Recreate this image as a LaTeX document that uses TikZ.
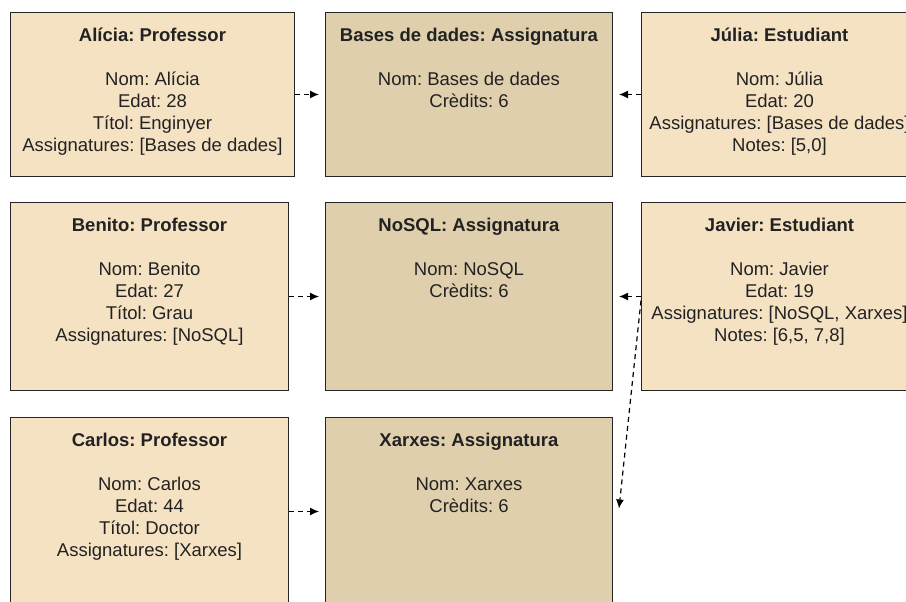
\documentclass[tikz,border=0pt]{standalone}
\usepackage{fontspec}
\setmainfont{Liberation Sans}
\usetikzlibrary{arrows.meta, positioning}
\frenchspacing

\definecolor{persona}{RGB}{245,226,195}
\definecolor{assig}{RGB}{223,207,172}
\definecolor{lletra}{RGB}{34,34,34}

\tikzset{
  caixa/.style={draw=black!85, line width=1pt, inner sep=0pt, anchor=north west},
  persbox/.style={caixa, fill=persona},
  assigbox/.style={caixa, fill=assig},
  fitxa/.style={anchor=north, inner sep=0pt, align=center, text=lletra,
    font=\fontsize{18.5}{22}\selectfont},
  relacio/.style={black, line width=1.2pt, dash pattern=on 5pt off 4pt,
    -{Latex[length=9pt,width=8pt]}, shorten >=6pt}
}

\begin{document}
\begin{tikzpicture}[x=1pt, y=-1pt]
\useasboundingbox (0,0) rectangle (906,602);
\clip (0,0) rectangle (906,602);

% row 1
\node[persbox, minimum width=284pt, minimum height=164pt] (alicia) at (10,12) {};
\node[assigbox, minimum width=287pt, minimum height=164pt] (bdd) at (325,12) {};
\node[persbox, minimum width=276pt, minimum height=164pt] (julia) at (641,12) {};

% row 2
\node[persbox, minimum width=278pt, minimum height=188pt] (benito) at (10,202) {};
\node[assigbox, minimum width=287pt, minimum height=188pt] (nosql) at (325,202) {};
\node[persbox, minimum width=276pt, minimum height=188pt] (javier) at (641,202) {};

% row 3
\node[persbox, minimum width=278pt, minimum height=188pt] (carlos) at (10,417) {};
\node[assigbox, minimum width=287pt, minimum height=188pt] (xarxes) at (325,417) {};

\node[fitxa] (alicia-txt) at ([yshift=-14pt]alicia.north) {\strut\textbf{Alícia: Professor}\\[22pt]
  Nom: Alícia\\ Edat: 28\\ Títol: Enginyer\\ Assignatures: [Bases de dades]};
\node[fitxa] (bdd-txt) at ([yshift=-14pt]bdd.north) {\strut\textbf{Bases de dades: Assignatura}\\[22pt]
  Nom: Bases de dades\\ Crèdits: 6};
\node[fitxa] (julia-txt) at ([yshift=-14pt]julia.north) {\strut\textbf{Júlia: Estudiant}\\[22pt]
  Nom: Júlia\\ Edat: 20\\ Assignatures: [Bases de dades]\\ Notes: [5,0]};

\node[fitxa] (benito-txt) at ([yshift=-14pt]benito.north) {\strut\textbf{Benito: Professor}\\[22pt]
  Nom: Benito\\ Edat: 27\\ Títol: Grau\\ Assignatures: [NoSQL]};
\node[fitxa] (nosql-txt) at ([yshift=-14pt]nosql.north) {\strut\textbf{NoSQL: Assignatura}\\[22pt]
  Nom: NoSQL\\ Crèdits: 6};
\node[fitxa] (javier-txt) at ([yshift=-14pt]javier.north) {\strut\textbf{Javier: Estudiant}\\[22pt]
  Nom: Javier\\ Edat: 19\\ Assignatures: [NoSQL, Xarxes]\\ Notes: [6,5, 7,8]};

\node[fitxa] (carlos-txt) at ([yshift=-14pt]carlos.north) {\strut\textbf{Carlos: Professor}\\[22pt]
  Nom: Carlos\\ Edat: 44\\ Títol: Doctor\\ Assignatures: [Xarxes]};
\node[fitxa] (xarxes-txt) at ([yshift=-14pt]xarxes.north) {\strut\textbf{Xarxes: Assignatura}\\[22pt]
  Nom: Xarxes\\ Crèdits: 6};

% relations
\draw[relacio] (alicia) -- (bdd);
\draw[relacio] (benito) -- (nosql);
\draw[relacio] (carlos) -- (xarxes);
\draw[relacio] (julia) -- (bdd);
\draw[relacio] (javier) -- (nosql);
\draw[relacio, shorten >=0pt] ([yshift=-4pt]javier.west) -- ([xshift=6pt,yshift=3pt]xarxes.east);

\end{tikzpicture}
\end{document}
